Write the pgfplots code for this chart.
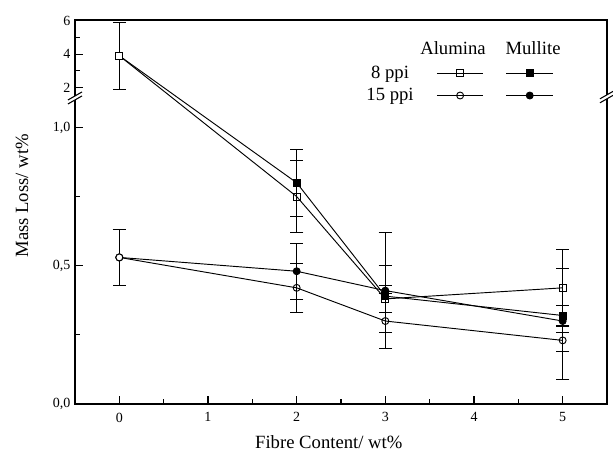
\documentclass[border=0pt]{standalone}
\usepackage{fontspec}
\setmainfont{Liberation Serif}
\usepackage{pgfplots}
\pgfplotsset{compat=1.18}
\usepackage{pgfplotstable}

% Mass loss (wt%) vs. fibre content (wt%), columns: x, y, error plus, error minus
\pgfplotstableread{
x y ep em
0 3.90 2.00 2.00
2 0.75 0.13 0.13
3 0.38 0.12 0.12
5 0.42 0.14 0.14
}\aluminaEight
\pgfplotstableread{
x y ep em
0 3.90 2.00 2.00
2 0.80 0.12 0.12
3 0.39 0.04 0.06
5 0.32 0.035 0.035
}\mulliteEight
\pgfplotstableread{
x y ep em
0 0.53 0.10 0.10
2 0.42 0.09 0.09
3 0.30 0.10 0.10
5 0.23 0.03 0.04
}\aluminaFifteen
\pgfplotstableread{
x y ep em
0 0.53 0.10 0.10
2 0.48 0.10 0.10
3 0.41 0.21 0.21
5 0.30 0.19 0.21
}\mulliteFifteen

\begin{document}
\begin{tikzpicture}
\begin{axis}[
  scale only axis, width=399pt, height=288pt,
  xmin=-0.5, xmax=5.5, ymin=0, ymax=6.05,
  % broken y axis: 0..1.1 linear, 2..6 compressed above the break
  y coord trafo/.code={\pgfmathparse{#1<1.5 ? #1 : 1.1446+(#1-2)*0.0602}},
  y coord inv trafo/.code={\pgfmathparse{#1<1.12 ? #1 : 2+(#1-1.1446)/0.0602}},
  xtick={0,1,2,3,4,5}, minor xtick={0.5,1.5,2.5,3.5,4.5},
  ytick={0,0.5,1,2,4,6}, yticklabels={{0,0},{0,5},{1,0},2,4,6},
  minor ytick={0.25,0.75,3,5},
  tick align=inside, xtick pos=lower, ytick pos=left,
  major tick length=6pt, minor tick length=3.5pt,
  axis line style={line width=0.9pt},
  tick style={line width=0.8pt, black},
  tick label style={font=\fontsize{10.5}{12}\selectfont},
  xticklabel style={yshift=-3pt},
  /pgf/number format/assume math mode=true,
  xlabel={Fibre Content/ wt\%}, ylabel={Mass Loss/ wt\%},
  label style={font=\fontsize{14}{16}\selectfont},
  xlabel style={at={(axis description cs:0.477,-0.099)}, anchor=center},
  ylabel style={at={(axis description cs:-0.0996,0.542)}, anchor=center},
  every axis plot/.append style={black, line width=0.7pt, mark size=2.6pt},
  legend columns=2, legend plot pos=right,
  legend image code/.code={\draw[mark repeat=2,mark phase=2]
    plot coordinates {(0pt,0pt) (17.5pt,0pt) (35pt,0pt)};},
  legend style={draw=none, fill=none, font=\fontsize{14}{16}\selectfont,
    at={(rel axis cs:0.900,0.8325)}, anchor=east, row sep=6pt,
    column sep=0pt, inner sep=0pt, nodes={inner sep=0pt}},
]
\pgfplotsset{
  bars/.style={draw=none, mark=none, forget plot,
    error bars/y dir=both, error bars/y explicit,
    error bars/error bar style={line width=0.6pt, solid},
    error bars/error mark options={rotate=90, mark size=5pt, line width=0.6pt}}}

% error bars (the shared bar at 0 wt% spans the axis break and is drawn on its own)
\addplot[black, line width=0.6pt, mark=-, mark size=5pt, forget plot]
  coordinates {(0,5.9) (0,1.9)};
\addplot[bars, restrict x to domain=1:6]
  table[x=x, y=y, y error plus=ep, y error minus=em] {\aluminaEight};
\addplot[bars, restrict x to domain=1:6]
  table[x=x, y=y, y error plus=ep, y error minus=em] {\mulliteEight};
\addplot[bars]
  table[x=x, y=y, y error plus=ep, y error minus=em] {\aluminaFifteen};
\addplot[bars, restrict x to domain=1:6]
  table[x=x, y=y, y error plus=ep, y error minus=em] {\mulliteFifteen};

% data series
\addplot[mark=square, mark options={fill=white, solid}] table[x=x, y=y] {\aluminaEight};
\addlegendentry{8 ppi\rule{17pt}{0pt}}
\addplot[mark=square*, mark options={fill=black, solid}] table[x=x, y=y] {\mulliteEight};
\addlegendentry{\rule{16.5pt}{0pt}}
\addplot[mark=o, mark options={fill=white, solid}] table[x=x, y=y] {\aluminaFifteen};
\addlegendentry{15 ppi\rule{17pt}{0pt}}
\addplot[mark=*, mark options={fill=black, solid}] table[x=x, y=y] {\mulliteFifteen};
\addlegendentry{\rule{16.5pt}{0pt}}

% the unreinforced foams (0 wt%) are shown with open symbols
\addplot[draw=none, mark=square*, mark options={fill=white, draw=black, solid},
  forget plot, restrict x to domain=-0.5:0.5] table[x=x, y=y] {\aluminaEight};
\addplot[draw=none, mark=*, mark options={fill=white, draw=black, solid},
  forget plot, restrict x to domain=-0.5:0.5] table[x=x, y=y] {\aluminaFifteen};

\node[font=\fontsize{14}{16}\selectfont] at (rel axis cs:0.7105,0.927) {Alumina};
\node[font=\fontsize{14}{16}\selectfont] at (rel axis cs:0.861,0.927) {Mullite};

\coordinate (brL) at (rel axis cs:0,0.797);
\coordinate (brR) at (rel axis cs:1,0.800);
\coordinate (bbsw) at ([shift={(-56.25pt,-37.5pt)}]rel axis cs:0,0);
\coordinate (bbne) at ([shift={(4.5pt,15pt)}]rel axis cs:1,1);
\end{axis}

% axis break marks on both vertical axis lines
\foreach \b in {brL,brR}{
  \fill[white] ([shift={(-5.25pt,-4.5pt)}]\b) -- ([shift={(5.25pt,1.5pt)}]\b)
    -- ([shift={(5.25pt,4.5pt)}]\b) -- ([shift={(-5.25pt,-1.5pt)}]\b) -- cycle;
  \draw[line width=0.8pt] ([shift={(-5.25pt,-4.5pt)}]\b) -- ([shift={(5.25pt,1.5pt)}]\b);
  \draw[line width=0.8pt] ([shift={(-5.25pt,-1.5pt)}]\b) -- ([shift={(5.25pt,4.5pt)}]\b);
}
\pgfresetboundingbox
\path[use as bounding box] (bbsw) rectangle (bbne);
\end{tikzpicture}
\end{document}
